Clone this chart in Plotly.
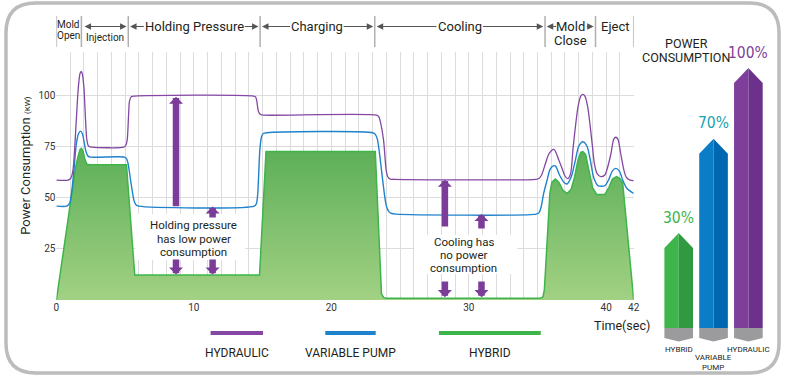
import plotly.graph_objects as go

W, H = 788, 376

# ---------------- data ----------------
hyd_t = [0, 0.85, 1.05, 1.2, 1.45, 1.6, 1.72, 1.8, 1.88, 2.0, 2.12, 2.22, 2.35, 2.6, 4.9, 5.05, 5.15, 5.25, 5.32, 5.45,
         5.7, 14.35, 14.5, 14.58, 14.7, 14.85, 15.1, 23.3, 23.45, 23.55, 23.8, 24.0, 24.12, 24.3, 24.6, 34.9, 35.1, 35.3,
         35.55, 35.85, 36.2, 36.55, 36.8, 37.0, 37.2, 37.4, 37.6, 37.95, 38.15, 38.3, 38.45, 38.65, 39.0, 39.15, 39.35,
         39.6, 39.9, 40.15, 40.35, 40.55, 40.7, 40.85, 41.05, 41.3, 41.45, 41.7, 42]
hyd_v = [58.5, 58.5, 59.5, 63, 88, 104, 110.5, 111.5, 110.5, 104, 88, 78, 75, 74.6, 74.6, 75.5, 78, 90, 97, 99.2,
         99.5, 99.5, 99, 97, 92, 90.5, 90.2, 90.2, 89.5, 87.5, 78, 63, 60, 59, 58.9, 58.9, 59.3, 61,
         66, 71.5, 73.5, 68.3, 64, 60.5, 59.2, 61.5, 74.8, 94.3, 99.5, 100.3, 99.5, 94.3, 74.8, 66, 61.5,
         60.2, 61, 66, 71.6, 78.5, 79.4, 78.5, 71.6, 63, 60, 58.6, 58.2]

var_t = [0, 0.75, 0.95, 1.1, 1.27, 1.45, 1.6, 1.75, 1.9, 2.02, 2.15, 2.3, 2.5, 4.95, 5.1, 5.2, 5.47, 5.65, 5.8, 6.0,
         14.4, 14.55, 14.65, 14.8, 14.92, 15.05, 15.3, 23.0, 23.2, 23.35, 24.0, 24.2, 24.4, 24.7, 34.9, 35.1, 35.25,
         35.45, 35.7, 35.9, 36.1, 36.3, 36.6, 36.95, 37.15, 37.45, 37.75, 38.0, 38.3, 38.6, 38.85, 39.1, 39.4, 39.9,
         40.2, 40.45, 40.7, 40.95, 41.2, 41.5, 42]
var_v = [45.8, 45.8, 47, 52, 63, 76, 81, 82.4, 81, 77, 72.5, 70.2, 69.7, 69.7, 69, 67, 55.3, 48.5, 46.3, 45.8,
         45.8, 47, 52, 73, 79.5, 81.2, 81.6, 81.6, 80.8, 78.5, 46, 43, 42.2, 41.9, 41.9, 42.5, 45,
         52, 58.5, 63.5, 65.3, 65.4, 61, 57.2, 56.6, 60, 68, 75, 77.2, 75, 68, 59.5, 55.8, 55.8,
         59, 63, 64.2, 63, 58.5, 54.5, 52]

hyb_t = [0, 1.4, 1.58, 1.72, 1.82, 1.95, 2.08, 2.23, 2.4, 5.1, 5.7, 14.78, 15.25, 23.2, 23.65, 23.8, 24.0, 35.2,
         35.4, 35.5, 35.9, 36.05, 36.3, 36.55, 36.85, 37.15, 37.45, 37.7, 37.95, 38.15, 38.3, 38.5, 38.75, 39.0,
         39.3, 39.9, 40.2, 40.45, 40.75, 41.0, 41.2, 42]
hyb_v = [0, 65, 70, 73.5, 74, 72.5, 68.5, 66.2, 66, 66, 12.2, 12.2, 72.4, 72.4, 3.0, 1.3, 0.8, 0.8,
         1.5, 5, 52, 57.5, 59, 57.5, 53.5, 52, 54, 60, 68.5, 72, 72.4, 71, 63, 55,
         51.5, 51.5, 55, 59, 60.2, 59.2, 57, 0]

x_ticks = [0, 10, 20, 30, 40, 42]
y_ticks = [25, 50, 75, 100]

phase_bounds = [0, 1.82, 5.23, 14.82, 23.16, 35.55, 39.22, 42]

series_names = ["HYDRAULIC", "VARIABLE PUMP", "HYBRID"]
series_colors = ["#8448a4", "#1f82cc", "#3db54a"]

summary_names = ["HYBRID", "VARIABLE<br>PUMP", "HYDRAULIC"]
summary_pct = [30, 70, 100]
summary_left = ["#3db54a", "#0b7dc6", "#7e3f9a"]
summary_right = ["#2f9a40", "#0068b0", "#6c318a"]
summary_text = ["#3db54a", "#16a3b0", "#7e3f9a"]

# ---------------- helpers (pixel -> paper / data) ----------------
def pxp(p):
    return p / W

def pyp(p):
    return 1 - p / H

SX = (638 - 54) / 42.0

def tx(p):
    return (p - 54) / SX

FONT = "Roboto, Open Sans, sans-serif"
TXT = "#231f20"

fig = go.Figure()

# main series
fig.add_trace(go.Scatter(x=hyb_t, y=hyb_v, mode="lines", line=dict(color="#3db54a", width=1.5),
                         fill="tozeroy",
                         fillgradient=dict(type="vertical", colorscale=[[0, "#a2d183"], [1, "#5caf58"]]),
                         hoverinfo="skip", showlegend=False))
fig.add_trace(go.Scatter(x=var_t, y=var_v, mode="lines", line=dict(color="#1f82cc", width=1.4, shape="spline", smoothing=0.8),
                         hoverinfo="skip", showlegend=False))
fig.add_trace(go.Scatter(x=hyd_t, y=hyd_v, mode="lines", line=dict(color="#8448a4", width=1.3, shape="spline", smoothing=0.8),
                         hoverinfo="skip", showlegend=False))

# right panel "arrow" bars
HW = 0.411
SH = 6.4
BASE = -10.3
for i, (v, cl, cr) in enumerate(zip(summary_pct, summary_left, summary_right)):
    fig.add_trace(go.Scatter(x=[i - HW, i - HW, i, i, i - HW], y=[BASE, v - SH, v, BASE, BASE],
                             fill="toself", fillcolor=cl, line=dict(width=0), mode="lines",
                             xaxis="x2", yaxis="y2", hoverinfo="skip", showlegend=False))
    fig.add_trace(go.Scatter(x=[i, i, i + HW, i + HW, i], y=[BASE, v, v - SH, BASE, BASE],
                             fill="toself", fillcolor=cr, line=dict(width=0), mode="lines",
                             xaxis="x2", yaxis="y2", hoverinfo="skip", showlegend=False))
    fig.add_trace(go.Scatter(x=[i - HW, i + HW, i + HW, i, i - HW, i - HW], y=[BASE, BASE, -14.5, -16.0, -14.5, BASE],
                             fill="toself", fillcolor="#9b9b9d", line=dict(width=0), mode="lines",
                             xaxis="x2", yaxis="y2", hoverinfo="skip", showlegend=False))

annotations = []
shapes = []

def pann(x, y, text, font, **kw):
    d = dict(x=pxp(x), y=pyp(y), xref="paper", yref="paper", text=text, showarrow=False,
             xanchor="center", yanchor="middle", font=font)
    d.update(kw)
    return d

# percentage labels & names
for i, (v, name, col) in enumerate(zip(summary_pct, summary_names, summary_text)):
    annotations.append(dict(x=i, y=v + 1.8, xref="x2", yref="y2", text=f"{v}%", showarrow=False,
                            xanchor="center", yanchor="bottom",
                            font=dict(family="Liberation Sans Narrow, DejaVu Sans Condensed, Roboto Condensed, Roboto",
                                      size=15.5, color=col)))
    annotations.append(dict(x=i, y=-16.6 - (3.4 if i == 1 else 0), xref="x2", yref="y2", text=name, showarrow=False,
                            xanchor="center", yanchor="top",
                            font=dict(family=FONT, size=8, color=TXT)))

annotations.append(pann(691, 43, "POWER", dict(family=FONT, size=12.5, color=TXT)))
annotations.append(pann(691, 57, "CONSUMPTION", dict(family=FONT, size=12.5, color=TXT)))

# header separators
for b in phase_bounds:
    shapes.append(dict(type="line", xref="x", yref="paper", x0=b, x1=b, y0=pyp(16), y1=pyp(47),
                       line=dict(color="#b0b0b0", width=1.5)))

hdr_y = pyp(26.5)
hdr_font = dict(family=FONT, size=13, color=TXT)
small_font = dict(family=FONT, size=10, color=TXT)
mid = lambda a, b: (phase_bounds[a] + phase_bounds[b]) / 2

def hann(xv, ypx, text, font):
    return dict(x=xv, y=pyp(ypx), xref="x", yref="paper", text=text, showarrow=False,
                xanchor="center", yanchor="middle", font=font)

annotations += [
    hann(mid(0, 1), 24.5, "Mold", small_font),
    hann(mid(0, 1), 35.5, "Open", small_font),
    hann(mid(1, 2), 37, "Injection", small_font),
    hann(mid(2, 3), 26.5, "Holding Pressure", hdr_font),
    hann(mid(3, 4), 26.5, "Charging", hdr_font),
    hann(mid(4, 5), 26.5, "Cooling", hdr_font),
    hann(mid(5, 6), 26.5, "Mold", hdr_font),
    hann(mid(5, 6), 40.5, "Close", hdr_font),
    hann(mid(6, 7), 26.5, "Eject", hdr_font),
]

def hdr_arrow(tail_px, head_px, both=False):
    d = dict(x=tx(head_px), y=hdr_y, xref="x", yref="paper", ax=tx(tail_px), ay=0, axref="x", ayref="pixel",
             text="", showarrow=True, arrowhead=2, arrowsize=1.3, arrowwidth=1, arrowcolor="#555555", standoff=0)
    if both:
        d.update(arrowside="end+start", startarrowhead=2, startarrowsize=1.3, startstandoff=0)
    return d

annotations += [
    hdr_arrow(81, 125, both=True),
    hdr_arrow(144, 128.5), hdr_arrow(243, 258.5),
    hdr_arrow(292, 262), hdr_arrow(343, 374.5),
    hdr_arrow(440, 378), hdr_arrow(484, 546.5),
    hdr_arrow(561, 550), hdr_arrow(589, 597.5),
]

# white boxes behind callout text
shapes.append(dict(type="rect", xref="x", yref="y", x0=tx(134), x1=tx(245), y0=19.5, y1=42,
                   fillcolor="white", line=dict(width=0), layer="between"))
shapes.append(dict(type="rect", xref="x", yref="y", x0=tx(416), x1=tx(520), y0=12.7, y1=31.7,
                   fillcolor="white", line=dict(width=0), layer="between"))

call_font = dict(family=FONT, size=11.5, color=TXT)
for txt, yv in zip(["Holding pressure", "has low power", "consumption"], [36.4, 30.0, 23.6]):
    annotations.append(dict(x=tx(193), y=yv, xref="x", yref="y", text=txt, showarrow=False, font=call_font))
for txt, yv in zip(["Cooling has", "no power", "consumption"], [28.5, 22.1, 15.7]):
    annotations.append(dict(x=tx(466), y=yv, xref="x", yref="y", text=txt, showarrow=False, font=call_font))

def big_arrow(xv, tip, tail):
    return dict(x=xv, y=tip, ax=xv, ay=tail, xref="x", yref="y", axref="x", ayref="y", text="",
                showarrow=True, arrowhead=1, arrowsize=0.36, arrowwidth=6.5, arrowcolor="#7b3d99", standoff=0)

annotations += [
    big_arrow(tx(175), 99.2, 45.0),
    big_arrow(tx(212), 45.6, 39.5),
    big_arrow(tx(175), 12.4, 20.5),
    big_arrow(tx(212), 12.4, 20.5),
    big_arrow(tx(447), 58.7, 35.1),
    big_arrow(tx(484), 42.0, 34.1),
    big_arrow(tx(447), 1.4, 9.8),
    big_arrow(tx(484), 1.4, 9.8),
]

# y-axis title
annotations.append(pann(22, 165, "Power Consumption <span style='font-size:8px'>(KW)</span>",
                        dict(family=FONT, size=13, color=TXT), textangle=-90))
annotations.append(pann(626, 325, "Time(sec)", dict(family=FONT, size=12.5, color=TXT)))

# bottom legend
leg = [(210, 263, 236.5), (326, 377, 351.5), (441, 544, 492.5)]
for (a, b, c), name, col in zip(leg, series_names, series_colors):
    shapes.append(dict(type="line", xref="paper", yref="paper", x0=pxp(a), x1=pxp(b), y0=pyp(333), y1=pyp(333),
                       line=dict(color=col, width=4)))
    annotations.append(pann(c, 352.5, name, dict(family=FONT, size=12, color=TXT)))

# rounded frame
x0, x1, y0, y1, r = 3, 785, 3, 373, 30
path = (f"M {pxp(x0 + r)},{pyp(y0)} L {pxp(x1 - r)},{pyp(y0)} Q {pxp(x1)},{pyp(y0)} {pxp(x1)},{pyp(y0 + r)} "
        f"L {pxp(x1)},{pyp(y1 - r)} Q {pxp(x1)},{pyp(y1)} {pxp(x1 - r)},{pyp(y1)} "
        f"L {pxp(x0 + r)},{pyp(y1)} Q {pxp(x0)},{pyp(y1)} {pxp(x0)},{pyp(y1 - r)} "
        f"L {pxp(x0)},{pyp(y0 + r)} Q {pxp(x0)},{pyp(y0)} {pxp(x0 + r)},{pyp(y0)} Z")
shapes.append(dict(type="path", xref="paper", yref="paper", path=path, line=dict(color="#bcbcbc", width=3.5)))

# right-panel axis: pixel 376 (bottom) .. 50 (top), apex scale 2.357 px per percent
Y2_LO = (303.7 - 376) / 2.357
Y2_HI = (303.7 - 50) / 2.357

grid = "#dcdcdc"
fig.update_layout(
    width=W, height=H, margin=dict(l=0, r=0, t=0, b=0),
    paper_bgcolor="white", plot_bgcolor="rgba(0,0,0,0)",
    showlegend=False,
    xaxis=dict(domain=[pxp(54), pxp(638)], range=[0, 42], tickvals=x_ticks, showgrid=True, gridcolor=grid,
               zeroline=False, showline=False, ticks="", tickfont=dict(family=FONT, size=10, color="#333"),
               minor=dict(dtick=1, tick0=0, showgrid=True, gridcolor=grid, gridwidth=1)),
    yaxis=dict(domain=[pyp(300), pyp(52)], range=[0, 121], tickvals=y_ticks, showgrid=True, gridcolor=grid,
               zeroline=False, showline=False, ticks="", tickfont=dict(family=FONT, size=10, color="#333")),
    xaxis2=dict(domain=[pxp(660), pxp(780)], range=[-0.667, 2.738], visible=False, anchor="y2"),
    yaxis2=dict(domain=[0, pyp(50)], range=[Y2_LO, Y2_HI], visible=False, anchor="x2"),
    annotations=annotations, shapes=shapes,
)

fig.write_html("out.html", config={"displayModeBar": False},
               post_script="document.body.style.margin='0';document.body.style.overflow='hidden';")
